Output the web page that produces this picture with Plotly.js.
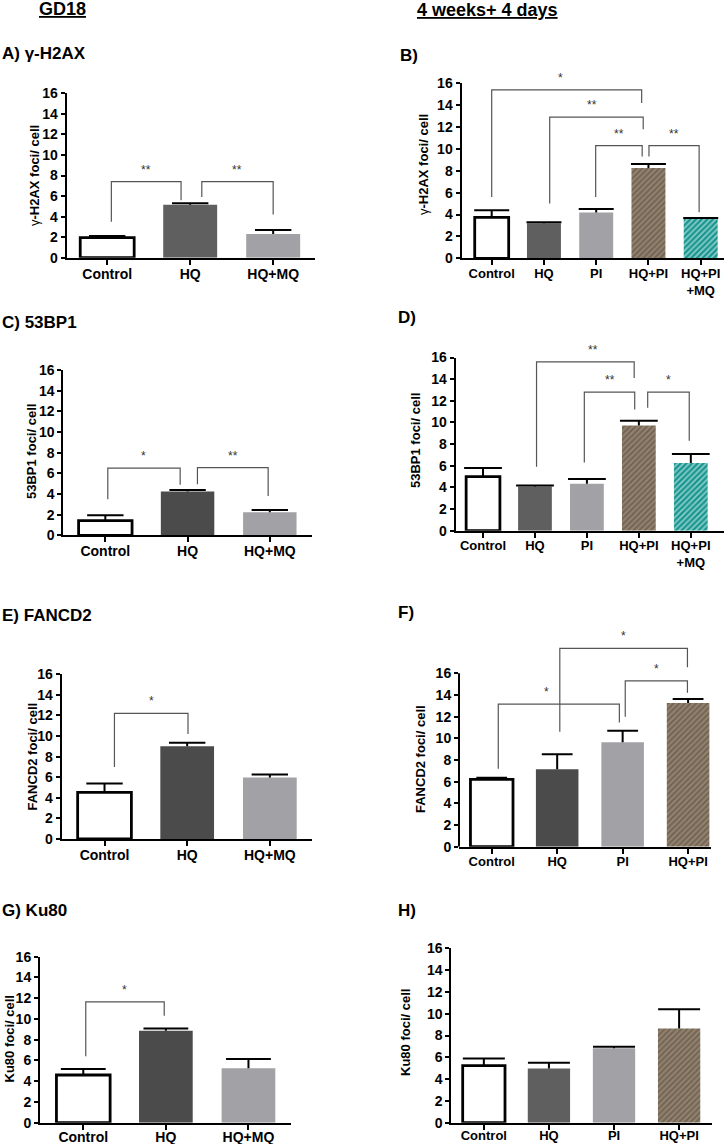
<!DOCTYPE html>
<html><head><meta charset="utf-8">
<script src="https://cdn.plot.ly/plotly-3.0.1.min.js"></script>
<style>html,body{margin:0;padding:0;background:#fff}</style>
</head><body><div id="chart" style="width:728px;height:1144px"></div>
<script>
// ---------------- data ----------------
const catsGD = ['Control', 'HQ', 'HQ+MQ'];
const cats5 = ['Control', 'HQ', 'PI', 'HQ+PI', 'HQ+PI<br>+MQ'];
const cats4 = ['Control', 'HQ', 'PI', 'HQ+PI'];
const yTicks = [0, 2, 4, 6, 8, 10, 12, 14, 16];

// A) gamma-H2AX, GD18
const valsA = [1.95, 5.15, 2.3];
const semA  = [0.15, 0.15, 0.4];
// B) gamma-H2AX, 4 weeks + 4 days
const valsB = [3.75, 3.2, 4.18, 8.25, 3.6];
const semB  = [0.65, 0.1, 0.32, 0.37, 0.08];
// C) 53BP1, GD18
const valsC = [1.42, 4.23, 2.23];
const semC  = [0.52, 0.16, 0.22];
// D) 53BP1, 4 weeks + 4 days
const valsD = [5.0, 4.09, 4.33, 9.72, 6.25];
const semD  = [0.79, 0.09, 0.44, 0.43, 0.84];
// E) FANCD2, GD18
const valsE = [4.52, 9.0, 5.97];
const semE  = [0.87, 0.35, 0.29];
// F) FANCD2, 4 weeks + 4 days
const valsF = [6.22, 7.14, 9.63, 13.26];
const semF  = [0.15, 1.38, 1.07, 0.37];
// G) Ku80, GD18
const valsG = [4.6, 8.87, 5.24];
const semG  = [0.58, 0.2, 0.9];
// H) Ku80, 4 weeks + 4 days
const valsH = [5.23, 4.98, 6.82, 8.65];
const semH  = [0.67, 0.52, 0.15, 1.75];

// significance labels
const sigA = ['**', '**'];
const sigB = ['*', '**', '**', '**'];
const sigC = ['*', '**'];
const sigD = ['**', '**', '*'];
const sigE = ['*'];
const sigF = ['*', '*', '*'];
const sigG = ['*'];

// ---------------- styles / layout ----------------
const W = 728, H = 1144;
const FONT = 'Liberation Sans, Arial, sans-serif';
const WHITE = '#ffffff', HQM = '#5f5f5f', HQD = '#4b4b4b', GRAY = '#a2a2a6';
const BROWN = '#94816a', BROWN_FG = '#5f503f', TEAL = '#16968f', TEAL_FG = '#123c3d';

// bracket geometry: [xLeft, xRight, top, leftLegBottom, rightLegBottom, starX(optional)]
const brA = [[0.05, 0.89, 7.4, 3.5, 5.6], [1.14, 2.0, 7.4, 5.9, 4.2]];
const brB = [[0, 2.87, 15.4, 5.6, 14.2, 1.32], [1.11, 2.9, 12.9, 5.0, 11.8, 1.91], [1.99, 2.88, 10.3, 5.6, 9.3], [3.01, 3.97, 10.3, 9.3, 4.2]];
const brC = [[0.03, 0.91, 6.5, 3.5, 4.9], [1.12, 1.98, 6.55, 4.95, 3.8]];
const brD = [[1.03, 2.91, 15.6, 5.9, 14.1, 2.11], [1.95, 2.92, 12.8, 6.3, 11.2], [3.17, 3.97, 12.8, 11.35, 8.3]];
const brE = [[0.12, 1.01, 12.2, 7.0, 10.2]];
const brF = [[0.1, 1.95, 13.15, 7.2, 11.45, 0.83], [1.04, 2.99, 18.3, 10.6, 16.55], [2.04, 2.99, 15.3, 12.0, 14.2]];
const brG = [[0.03, 0.98, 11.65, 6.4, 10.3]];

const panels = [
  {cats: catsGD, vals: valsA, sem: semA, fills: [WHITE, HQM, GRAY], sig: sigA, br: brA,
   x0: 66.7, x1: 315, y16: 93.3, y0: 257.7, xr: [-0.488, 2.504], cap: 26, cf: 14, so: -3,
   ytitle: 'γ<b>-H2AX foci/ cell</b>', tx: 34, ty: 176, label: '<b>A) γ-H2AX</b>', lx: 0, ly: 53},
  {cats: cats5, vals: valsB, sem: semB, fills: [WHITE, HQM, GRAY, BROWN, TEAL], sig: sigB, br: brB,
   x0: 461.5, x1: 724, y16: 83.3, y0: 258.3, xr: [-0.578, 4.446], cap: 25, cf: 13, so: -3,
   ytitle: 'γ<b>-H2AX foci/ cell</b>', tx: 424, ty: 165, label: '<b>B)</b>', lx: 398, ly: 55},
  {cats: catsGD, vals: valsC, sem: semC, fills: [WHITE, HQD, GRAY], sig: sigC, br: brC,
   x0: 63.3, x1: 312, y16: 370, y0: 535.3, xr: [-0.511, 2.513], cap: 26, cf: 14, so: -3,
   ytitle: '<b>53BP1 foci/ cell</b>', tx: 31, ty: 452, label: '<b>C) 53BP1</b>', lx: 0, ly: 323},
  {cats: cats5, vals: valsD, sem: semD, fills: [WHITE, HQM, GRAY, BROWN, TEAL], sig: sigD, br: brD,
   x0: 455.7, x1: 724, y16: 357.5, y0: 530.7, xr: [-0.526, 4.639], cap: 27, cf: 13, so: -3,
   ytitle: '<b>53BP1 foci/ cell</b>', tx: 416, ty: 441, label: '<b>D)</b>', lx: 396, ly: 318},
  {cats: catsGD, vals: valsE, sem: semE, fills: [WHITE, HQD, GRAY], sig: sigE, br: brE,
   x0: 61.7, x1: 312, y16: 674.3, y0: 839, xr: [-0.518, 2.51], cap: 26, cf: 14, so: -3,
   ytitle: '<b>FANCD2 foci/ cell</b>', tx: 31.5, ty: 757, label: '<b>E) FANCD2</b>', lx: 0, ly: 615},
  {cats: cats4, vals: valsF, sem: semF, fills: [WHITE, HQD, GRAY, BROWN], sig: sigF, br: brF,
   x0: 459, x1: 711, y16: 673.3, y0: 846.7, xr: [-0.5, 3.35], cap: 22, cf: 13, ymax: 19, so: -3,
   ytitle: '<b>FANCD2 foci/ cell</b>', tx: 420, ty: 759, label: '<b>F)</b>', lx: 396, ly: 612},
  {cats: catsGD, vals: valsG, sem: semG, fills: [WHITE, HQD, GRAY], sig: sigG, br: brG,
   x0: 40, x1: 291, y16: 956.7, y0: 1122.7, xr: [-0.524, 2.515], cap: 32, cf: 14, so: -5,
   ytitle: '<b>Ku80 foci/ cell</b>', tx: 8.5, ty: 1039, label: '<b>G) Ku80</b>', lx: 0, ly: 910},
  {cats: cats4, vals: valsH, sem: semH, fills: [WHITE, HQM, GRAY, BROWN], sig: [], br: [],
   x0: 451.3, x1: 712.3, y16: 948.3, y0: 1122.7, xr: [-0.5, 3.51], cap: 30, cf: 13, so: -5,
   ytitle: '<b>Ku80 foci/ cell</b>', tx: 405, ty: 1033, label: '<b>H)</b>', lx: 396, ly: 910}
];

const traces = [];
const layout = {
  width: W, height: H, margin: {l: 0, r: 0, t: 0, b: 0},
  paper_bgcolor: '#fff', plot_bgcolor: 'rgba(0,0,0,0)', showlegend: false,
  hovermode: false,
  font: {family: FONT, color: '#000'},
  shapes: [], annotations: []
};

panels.forEach((p, k) => {
  const n = k + 1;
  const xa = n === 1 ? 'x' : 'x' + n, ya = n === 1 ? 'y' : 'y' + n;
  const xKey = n === 1 ? 'xaxis' : 'xaxis' + n, yKey = n === 1 ? 'yaxis' : 'yaxis' + n;
  const idx = p.cats.map((c, i) => i);
  const ymax = p.ymax || 16;
  const pxPerUnit = (p.y0 - p.y16) / 16;
  const yTopPx = p.y0 - ymax * pxPerUnit;
  const isPat = p.fills.map(f => f === BROWN || f === TEAL);

  traces.push({
    type: 'bar', x: idx, y: p.vals, xaxis: xa, yaxis: ya, width: 0.65,
    marker: {
      color: p.fills,
      line: {color: p.fills.map(f => f === WHITE ? '#000' : 'rgba(0,0,0,0)'), width: p.fills.map(f => f === WHITE ? 2.8 : 0)},
      pattern: {
        shape: isPat.map(b => b ? '/' : ''),
        fgcolor: p.fills.map(f => f === BROWN ? BROWN_FG : (f === TEAL ? TEAL_FG : f)),
        size: 4, solidity: 0.45, fillmode: 'overlay'
      }
    },
    error_y: {type: 'data', symmetric: false, array: p.sem, arrayminus: p.sem.map(() => 0),
              color: '#000', thickness: 2, width: 0}
  });
  // error-bar caps
  traces.push({
    type: 'scatter', mode: 'markers', x: idx, y: p.vals.map((v, i) => v + p.sem[i]),
    xaxis: xa, yaxis: ya,
    marker: {symbol: 'line-ew', size: p.cap, line: {color: '#000', width: 2}}
  });

  layout[xKey] = {
    domain: [p.x0 / W, p.x1 / W], range: p.xr, anchor: ya,
    showline: true, linewidth: 2, linecolor: '#000', ticks: 'outside', ticklen: 5,
    tickwidth: 2, tickcolor: '#000', tickvals: idx, ticktext: p.cats,
    ticklabelstandoff: p.so,
    tickfont: {family: FONT, size: p.cf, color: '#000', weight: 'bold'},
    showgrid: false, zeroline: false, fixedrange: true
  };
  layout[yKey] = {
    domain: [1 - p.y0 / H, 1 - yTopPx / H], range: [0, ymax], anchor: xa,
    showline: ymax === 16, linewidth: 2, linecolor: '#000', ticks: 'outside', ticklen: 4,
    tickwidth: 2, tickcolor: '#000', tickvals: yTicks, ticktext: yTicks.map(String),
    tickfont: {family: FONT, size: 14, color: '#000', weight: 'bold'},
    showgrid: false, zeroline: false, fixedrange: true
  };
  if (ymax !== 16) {
    layout.shapes.push({type: 'line', xref: xa + ' domain', yref: ya, x0: 0, x1: 0, y0: 0, y1: 16,
                        line: {color: '#000', width: 2}});
  }

  p.br.forEach((b, j) => {
    const [a, c, top, la, lb, sx] = b;
    layout.shapes.push({
      type: 'path', xref: xa, yref: ya,
      path: `M ${a},${la} L ${a},${top} L ${c},${top} L ${c},${lb}`,
      line: {color: '#555', width: 1.2}
    });
    layout.annotations.push({
      xref: xa, yref: ya, x: sx !== undefined ? sx : (a + c) / 2, y: top,
      text: p.sig[j], showarrow: false, xanchor: 'center', yanchor: 'bottom', yshift: 3,
      font: {family: FONT, size: 12, color: '#333'}
    });
  });

  layout.annotations.push({
    xref: 'paper', yref: 'paper', x: p.tx / W, y: 1 - p.ty / H, text: p.ytitle,
    textangle: -90, showarrow: false, xanchor: 'center', yanchor: 'middle',
    font: {family: FONT, size: 13, color: '#000'}
  });
  layout.annotations.push({
    xref: 'paper', yref: 'paper', x: p.lx / W, y: 1 - p.ly / H, text: p.label,
    showarrow: false, xanchor: 'left', yanchor: 'middle',
    font: {family: FONT, size: 17, color: '#000'}
  });
});

layout.annotations.push({
  xref: 'paper', yref: 'paper', x: 62 / W, y: 1 - 9 / H, text: '<b><u>GD18</u></b>',
  showarrow: false, xanchor: 'center', yanchor: 'middle', font: {family: FONT, size: 18, color: '#000'}
});
layout.annotations.push({
  xref: 'paper', yref: 'paper', x: 488 / W, y: 1 - 10 / H, text: '<b><u>4 weeks+ 4 days</u></b>',
  showarrow: false, xanchor: 'center', yanchor: 'middle', font: {family: FONT, size: 18, color: '#000'}
});

Plotly.newPlot('chart', traces, layout, {staticPlot: true, displayModeBar: false});
</script>
</body></html>
